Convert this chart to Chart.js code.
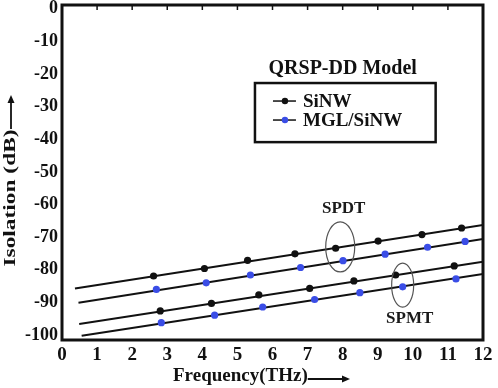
<!DOCTYPE html>
<html>
<head>
<meta charset="utf-8">
<script src="https://cdn.jsdelivr.net/npm/chart.js@4/dist/chart.umd.min.js"></script>
<style>
  body { margin: 0; background: #fff; }
</style>
</head>
<body>
<canvas id="chart" width="498" height="388"></canvas>
<script>
// tick labels
const xTicks = [0, 1, 2, 3, 4, 5, 6, 7, 8, 9, 10, 11, 12];
const yTicks = [0, -10, -20, -30, -40, -50, -60, -70, -80, -90, -100];

// SPDT (upper pair)
const sinwSpdtX = [2.61, 4.06, 5.29, 6.64, 7.80, 9.01, 10.26, 11.39];
const sinwSpdtY = [-81.9, -79.6, -77.1, -75.1, -73.4, -71.2, -69.2, -67.2];
const mglSpdtX = [2.69, 4.11, 5.37, 6.80, 8.01, 9.21, 10.42, 11.49];
const mglSpdtY = [-86.0, -84.0, -81.6, -79.3, -77.2, -75.2, -73.1, -71.3];

// SPMT (lower pair)
const sinwSpmtX = [2.80, 4.26, 5.61, 7.06, 8.32, 9.51, 11.18];
const sinwSpmtY = [-92.6, -90.3, -87.7, -85.7, -83.4, -81.6, -78.8];
const mglSpmtX = [2.83, 4.35, 5.72, 7.20, 8.49, 9.71, 11.23];
const mglSpmtY = [-96.2, -93.9, -91.4, -89.1, -87.0, -85.2, -82.8];

// straight fit lines: start x, start y, end x, end y
const fitStartX = [0.37, 0.47, 0.49, 0.56];
const fitStartY = [-85.7, -90.1, -96.6, -100.2];
const fitEndX = [12, 12, 12, 12];
const fitEndY = [-66.3, -70.6, -77.5, -81.3];

const legendLabels = ['SiNW', 'MGL/SiNW'];
const legendTitle = 'QRSP-DD Model';

const BLACK = '#111111';
const BLUE = '#3a4de6';
const SERIF = '"Liberation Serif", "Times New Roman", serif';

function pts(xs, ys) {
  return xs.map((x, i) => ({ x: x, y: ys[i] }));
}

const markerSets = [
  { label: 'SiNW SPDT', data: pts(sinwSpdtX, sinwSpdtY), color: BLACK },
  { label: 'MGL/SiNW SPDT', data: pts(mglSpdtX, mglSpdtY), color: BLUE },
  { label: 'SiNW SPMT', data: pts(sinwSpmtX, sinwSpmtY), color: BLACK },
  { label: 'MGL/SiNW SPMT', data: pts(mglSpmtX, mglSpmtY), color: BLUE }
];

const datasets = [];
markerSets.forEach(s => {
  datasets.push({
    label: s.label,
    data: s.data,
    showLine: false,
    pointRadius: 3.6,
    pointBackgroundColor: s.color,
    pointBorderWidth: 0,
    order: 0
  });
});
fitStartX.forEach((x0, i) => {
  datasets.push({
    label: 'fit ' + i,
    data: [{ x: x0, y: fitStartY[i] }, { x: fitEndX[i], y: fitEndY[i] }],
    showLine: true,
    borderColor: BLACK,
    borderWidth: 2,
    pointRadius: 0,
    order: 1
  });
});

function arrow(ctx, x1, y1, x2, y2) {
  const a = Math.atan2(y2 - y1, x2 - x1);
  ctx.beginPath();
  ctx.moveTo(x1, y1);
  ctx.lineTo(x2 - 6 * Math.cos(a), y2 - 6 * Math.sin(a));
  ctx.stroke();
  ctx.beginPath();
  ctx.moveTo(x2, y2);
  ctx.lineTo(x2 - 8 * Math.cos(a) + 3.5 * Math.sin(a), y2 - 8 * Math.sin(a) - 3.5 * Math.cos(a));
  ctx.lineTo(x2 - 8 * Math.cos(a) - 3.5 * Math.sin(a), y2 - 8 * Math.sin(a) + 3.5 * Math.cos(a));
  ctx.closePath();
  ctx.fill();
}

const decorations = {
  id: 'decorations',
  afterDraw(chart) {
    const ctx = chart.ctx;
    const area = chart.chartArea;
    const xs = chart.scales.x;
    const ys = chart.scales.y;
    ctx.save();

    // frame
    ctx.strokeStyle = BLACK;
    ctx.lineWidth = 3;
    ctx.strokeRect(area.left, area.top, area.right - area.left, area.bottom - area.top);

    // small inward ticks on top border
    ctx.lineWidth = 1.5;
    xTicks.slice(1, -1).forEach(v => {
      const px = xs.getPixelForValue(v);
      ctx.beginPath();
      ctx.moveTo(px, area.top);
      ctx.lineTo(px, area.top + 5);
      ctx.stroke();
    });

    // legend title and box
    ctx.fillStyle = BLACK;
    ctx.font = 'bold 20px ' + SERIF;
    ctx.textAlign = 'center';
    ctx.textBaseline = 'middle';
    ctx.fillText(legendTitle, xs.getPixelForValue(8.0), ys.getPixelForValue(-18.5));

    const bx0 = xs.getPixelForValue(5.5), bx1 = xs.getPixelForValue(10.65);
    const by0 = ys.getPixelForValue(-22.8), by1 = ys.getPixelForValue(-40.9);
    ctx.lineWidth = 2.5;
    ctx.strokeRect(bx0, by0, bx1 - bx0, by1 - by0);

    const legendColors = [BLACK, BLUE];
    ctx.font = 'bold 19px ' + SERIF;
    ctx.textAlign = 'left';
    legendLabels.forEach((lab, i) => {
      const yy = by0 + 18 + i * 19;
      ctx.strokeStyle = BLACK;
      ctx.lineWidth = 1.5;
      ctx.beginPath();
      ctx.moveTo(bx0 + 18, yy);
      ctx.lineTo(bx0 + 41, yy);
      ctx.stroke();
      ctx.fillStyle = legendColors[i];
      ctx.beginPath();
      ctx.arc(bx0 + 30, yy, 3.2, 0, Math.PI * 2);
      ctx.fill();
      ctx.fillStyle = BLACK;
      ctx.fillText(lab, bx0 + 48, yy + 1);
    });

    // SPDT / SPMT callouts
    ctx.strokeStyle = '#555';
    ctx.lineWidth = 1.2;
    ctx.beginPath();
    ctx.ellipse(xs.getPixelForValue(7.93), ys.getPixelForValue(-73.0), 14.5, 25, 0, 0, Math.PI * 2);
    ctx.stroke();
    ctx.beginPath();
    ctx.ellipse(xs.getPixelForValue(9.71), ys.getPixelForValue(-84.7), 11, 22, 0, 0, Math.PI * 2);
    ctx.stroke();

    ctx.fillStyle = '#1a1a1a';
    ctx.font = 'bold 17px ' + SERIF;
    ctx.textAlign = 'center';
    ctx.fillText('SPDT', xs.getPixelForValue(8.03), ys.getPixelForValue(-61.4));
    ctx.fillText('SPMT', xs.getPixelForValue(9.91), ys.getPixelForValue(-94.8));

    // x axis title with arrow
    ctx.fillStyle = BLACK;
    ctx.strokeStyle = BLACK;
    ctx.font = 'bold 19px ' + SERIF;
    ctx.textAlign = 'left';
    ctx.fillText('Frequency(THz)', 173, 376);
    const tw = ctx.measureText('Frequency(THz)').width;
    ctx.lineWidth = 1.8;
    arrow(ctx, 173 + tw, 379, 350, 379);

    // y axis title with arrow (stretched like the source)
    ctx.save();
    ctx.translate(11, 198);
    ctx.rotate(-Math.PI / 2);
    ctx.font = 'bold 16px ' + SERIF;
    ctx.textAlign = 'center';
    const yw = ctx.measureText('Isolation (dB)').width;
    ctx.scale(137 / yw, 1);
    ctx.fillText('Isolation (dB)', 0, 0);
    ctx.restore();
    arrow(ctx, 11, 129, 11, 95);

    ctx.restore();
  }
};

new Chart(document.getElementById('chart'), {
  type: 'scatter',
  data: { datasets: datasets },
  options: {
    responsive: false,
    animation: false,
    layout: { padding: { top: 5, right: 15, left: 0, bottom: 0 } },
    plugins: { legend: { display: false }, tooltip: { enabled: false } },
    scales: {
      x: {
        type: 'linear',
        min: 0,
        max: 12,
        afterBuildTicks: axis => { axis.ticks = xTicks.map(v => ({ value: v })); },
        afterFit: axis => { axis.height = 48; axis.paddingLeft = 0; axis.paddingRight = 0; },
        grid: { display: false, drawTicks: false },
        border: { display: false },
        ticks: {
          color: BLACK,
          padding: 4,
          maxRotation: 0,
          autoSkip: false,
          font: { family: SERIF, size: 19, weight: 'bold' }
        }
      },
      y: {
        type: 'linear',
        min: -101.5,
        max: 1.1,
        afterBuildTicks: axis => { axis.ticks = yTicks.map(v => ({ value: v })); },
        afterFit: axis => { axis.width = 62; axis.paddingTop = 0; axis.paddingBottom = 0; },
        grid: { display: false, drawTicks: false },
        border: { display: false },
        ticks: {
          color: BLACK,
          padding: 4,
          autoSkip: false,
          font: { family: SERIF, size: 18, weight: 'bold' }
        }
      }
    }
  },
  plugins: [decorations]
});
</script>
</body>
</html>
